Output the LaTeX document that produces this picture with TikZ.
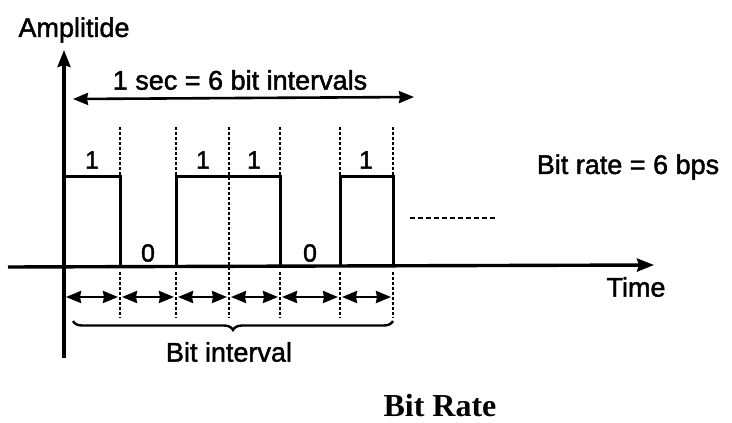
\documentclass[tikz,border=0pt]{standalone}
\usepackage{fontspec}
\setmainfont{Liberation Sans}
\newfontfamily\lblfont{Liberation Sans}[FakeBold=1.6]
\newfontfamily\titlefont{Liberation Serif}
\usetikzlibrary{arrows.meta,decorations.pathreplacing}
\begin{document}
\begin{tikzpicture}[x=1pt,y=-1pt,
  axis/.style={line width=3.4pt,-{Stealth[length=17pt,width=13pt,inset=2pt]}},
  wave/.style={line width=3pt,line join=miter},
  guide/.style={line width=2.4pt,dash pattern=on 3pt off 2pt},
  span/.style={line width=2.6pt,{Stealth[length=15pt,width=12pt,inset=1pt]}-{Stealth[length=15pt,width=12pt,inset=1pt]}},
  lbl/.style={font=\lblfont\fontsize{27}{30}\selectfont,inner sep=0pt},
  bit/.style={font=\lblfont\fontsize{25}{28}\selectfont,inner sep=0pt}]
\useasboundingbox (0,0) rectangle (732,423);
% coordinates
\coordinate (o) at (64,267);
\coordinate (ytop) at (64,50);
\coordinate (ybot) at (64,358);
\coordinate (xl) at (8,267);
\coordinate (xr) at (654,265);
\foreach \i/\x in {0/64,1/120,2/176,3/229,4/280,5/340,6/393}{
  \coordinate (h\i) at (\x,176);
  \coordinate (l\i) at (\x,267);
  \coordinate (t\i) at (\x,127);
  \coordinate (u\i) at (\x,272);
  \coordinate (d\i) at (\x,318);
  \coordinate (a\i) at (\x,297);
}
% axes
\draw[line width=3.4pt] (o) -- (ybot);
\draw[axis] (o) -- (ytop);
\draw[axis] (xl) -- (xr);
% waveform 1 0 1 1 0 1
\draw[wave] (h0) -- (h1) -- (l1) (l2) -- (h2) -- (h4) -- (l4) (l5) -- (h5) -- (h6) -- (l6);
% dashed guides
\foreach \i in {1,2,4,5,6}{
  \draw[guide] (t\i) -- (h\i);
  \draw[guide] (u\i) -- (d\i);
}
\draw[guide] (t3) -- (d3);
% bit interval arrows
\foreach \i/\j in {0/1,1/2,2/3,3/4,4/5,5/6}{
  \draw[span] ([xshift=2pt]a\i) -- ([xshift=-2pt]a\j);
}
% one second arrow
\coordinate (sl) at (73,99);
\coordinate (sr) at (414,97);
\draw[span] (sl) -- (sr);
% brace
\coordinate (bl) at (73,321);
\coordinate (br) at (393,321);
\draw[line width=2.4pt,decorate,decoration={brace,mirror,amplitude=9pt}] (bl) -- (br);
% dotted continuation
\coordinate (cl) at (410,218);
\coordinate (cr) at (495,218);
\draw[line width=2.4pt,dash pattern=on 5pt off 3pt] (cl) -- (cr);
% labels
\node[lbl] (amp) at (74,30) {Amplitide};
\node[lbl] (sec) at (240,80) {1 sec = 6 bit intervals};
\node[lbl] (rate) at (628,167) {Bit rate = 6 bps};
\node[lbl] (time) at (636,287) {Time};
\node[lbl] (bint) at (229,352) {Bit interval};
\node[bit] (b1) at (92,160) {1};
\node[bit] (b2) at (148,253) {0};
\node[bit] (b3) at (203,160) {1};
\node[bit] (b4) at (254,160) {1};
\node[bit] (b5) at (310,253) {0};
\node[bit] (b6) at (366,160) {1};
\node[font=\titlefont\bfseries\fontsize{32}{34}\selectfont,inner sep=0pt] (title) at (440,406) {Bit Rate};
\end{tikzpicture}
\end{document}
